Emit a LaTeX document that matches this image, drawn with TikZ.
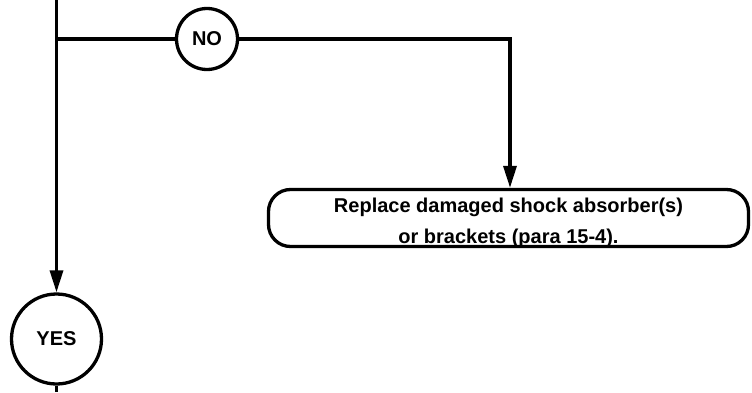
\documentclass[tikz,border=0pt]{standalone}
\usepackage{fontspec}
\setmainfont{Liberation Sans}
\usepackage{tikz}
\usetikzlibrary{arrows.meta}

\begin{document}
\begin{tikzpicture}[x=1pt, y=1pt, line width=3.3pt,
		answer/.style={draw, circle, inner sep=0pt, font=\bfseries\fontsize{20}{24}\selectfont},
		action/.style={draw, rectangle, rounded corners=22pt, minimum width=480pt, minimum height=57pt},
		flow/.style={-{Triangle[length=22pt, width=13pt]}}]
		\useasboundingbox (0,0) rectangle (752,392);
		
		\coordinate (top) at (56.5,392);
		\coordinate (split) at (56.5,353);
		\coordinate (turn) at (510,353);
		\coordinate (bottom) at (56.5,0);
		
		\node[answer, minimum size=61pt] (no) at (207,353) {NO};
		\node[answer, minimum size=90pt] (yes) at (56.5,53) {YES};
		\node[action] (replace) at (508.5,174) {};
		\node[align=center, font=\bfseries\fontsize{20}{31}\selectfont] (replacetext) at ([yshift=-5pt]replace.center) {Replace damaged shock absorber(s)\\or brackets (para 15-4).};
		
		\draw[flow] (top) -- (yes);
		\draw (split) -- (no);
		\draw[flow] (no) -- (turn) -- (turn |- replace.north);
		\draw (yes) -- (bottom);
	\end{tikzpicture}
\end{document}
